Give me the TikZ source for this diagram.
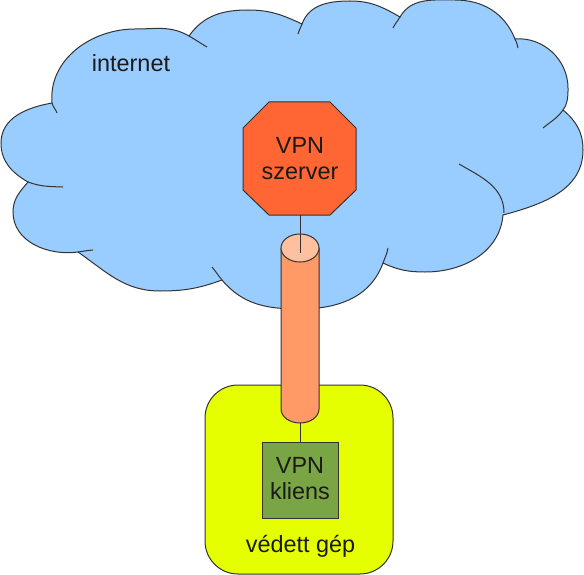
\documentclass[tikz,border=0pt]{standalone}
\usepackage{fontspec}
\setmainfont{Liberation Sans}
\definecolor{cloudfill}{HTML}{99CCFF}
\definecolor{octfill}{HTML}{FF6633}
\definecolor{cylbody}{HTML}{FF9966}
\definecolor{cyltop}{HTML}{FFC0A0}
\definecolor{hostfill}{HTML}{E6FF00}
\definecolor{clifill}{HTML}{7AA545}
\definecolor{edge}{HTML}{333333}
\definecolor{txt}{HTML}{1A1A1A}
\tikzset{
  outl/.style={draw=edge, line width=1bp},
  lbl/.style={font=\fontsize{23.5}{26.5}\selectfont, text=txt, inner sep=0pt, align=center},
  conn/.style={draw=edge, line width=1bp},
}
\begin{document}
\begin{tikzpicture}[x=1bp,y=1bp]
\useasboundingbox (0,0) rectangle (584,-575);
% cloud outline
\path[outl, fill=cloudfill]
  (52,-103) to[out=95,in=180] (135,-29) to[out=0,in=150] (189,-36)
  to[out=55,in=180] (248,-10) to[out=0,in=155] (302,-24)
  to[out=70,in=180] (350,-1) to[out=0,in=150] (400,-17)
  to[out=60,in=180] (455,0) to[out=0,in=112] (515,-39)
  to[out=5,in=90] (568,-88) to[out=-90,in=55] (563,-110)
  to[out=-40,in=90] (583,-150) to[out=-90,in=15] (503,-215)
  to[out=-95,in=0] (425,-272) to[out=180,in=-25] (383,-263)
  to[out=-110,in=0] (300,-309) to[out=180,in=-50] (222,-280)
  to[out=200,in=0] (160,-291) to[out=180,in=-35] (78,-252)
  to[out=188,in=-90] (13,-212) to[out=90,in=-130] (28,-182)
  to[out=150,in=-90] (1,-143) to[out=90,in=190] (52,-103) -- cycle;
% inner folds
\draw[outl] (189,-36) to[out=-30,in=150] (207,-47);
\draw[outl] (302,-24) to[out=-110,in=75] (298,-34);
\draw[outl] (400,-17) to[out=-120,in=65] (393,-28);
\draw[outl] (515,-39) to[out=-70,in=95] (518,-48);
\draw[outl] (563,-110) to[out=-125,in=40] (543,-128);
\draw[outl] (459,-164) to[out=-30,in=90] (504,-213);
\draw[outl] (383,-263) to[out=70,in=-100] (388,-248);
\draw[outl] (222,-280) to[out=130,in=-50] (212,-267);
\draw[outl] (78,-252) to[out=8,in=185] (93,-250);
\draw[outl] (28,-182) to[out=-20,in=178] (63,-187);
\draw[outl] (52,-103) to[out=-75,in=110] (57,-113);
\node[lbl, anchor=base] (inet) at (131,-72) {internet};
% protected host
\node[outl, fill=hostfill, rounded corners=33bp, minimum width=188bp, minimum height=189bp, inner sep=0pt] (host) at (299,-479.5) {};
\node[lbl, anchor=base] (hostlbl) at (300.5,-552) {védett gép};
% tunnel cylinder
\path[outl, fill=cylbody] (319,-248) -- (281,-248) -- (281,-409)
  arc[start angle=180, end angle=360, x radius=19, y radius=14] -- cycle;
\path[outl, fill=cyltop] (300,-248) ellipse[x radius=19, y radius=14];
\coordinate (cyltopc) at (300,-253);
\coordinate (cylbot) at (300,-423);
% VPN server octagon
\path[outl, fill=octfill] (269,-102) -- (330,-102) -- (356,-128) -- (356,-190)
  -- (330,-215) -- (269,-215) -- (243,-190) -- (243,-128) -- cycle;
\coordinate (srvbot) at (300,-215);
\node[lbl] (srv) at (300,-158.5) {VPN\\szerver};
% VPN client
\node[outl, fill=clifill, minimum width=76bp, minimum height=76bp, inner sep=0pt] (cli) at (300,-480) {};
\node[lbl] (clilbl) at (300,-478.5) {VPN\\kliens};
% connectors
\draw[conn] (srvbot) -- (cyltopc);
\draw[conn] (cylbot) -- (cli.north);
\end{tikzpicture}
\end{document}
